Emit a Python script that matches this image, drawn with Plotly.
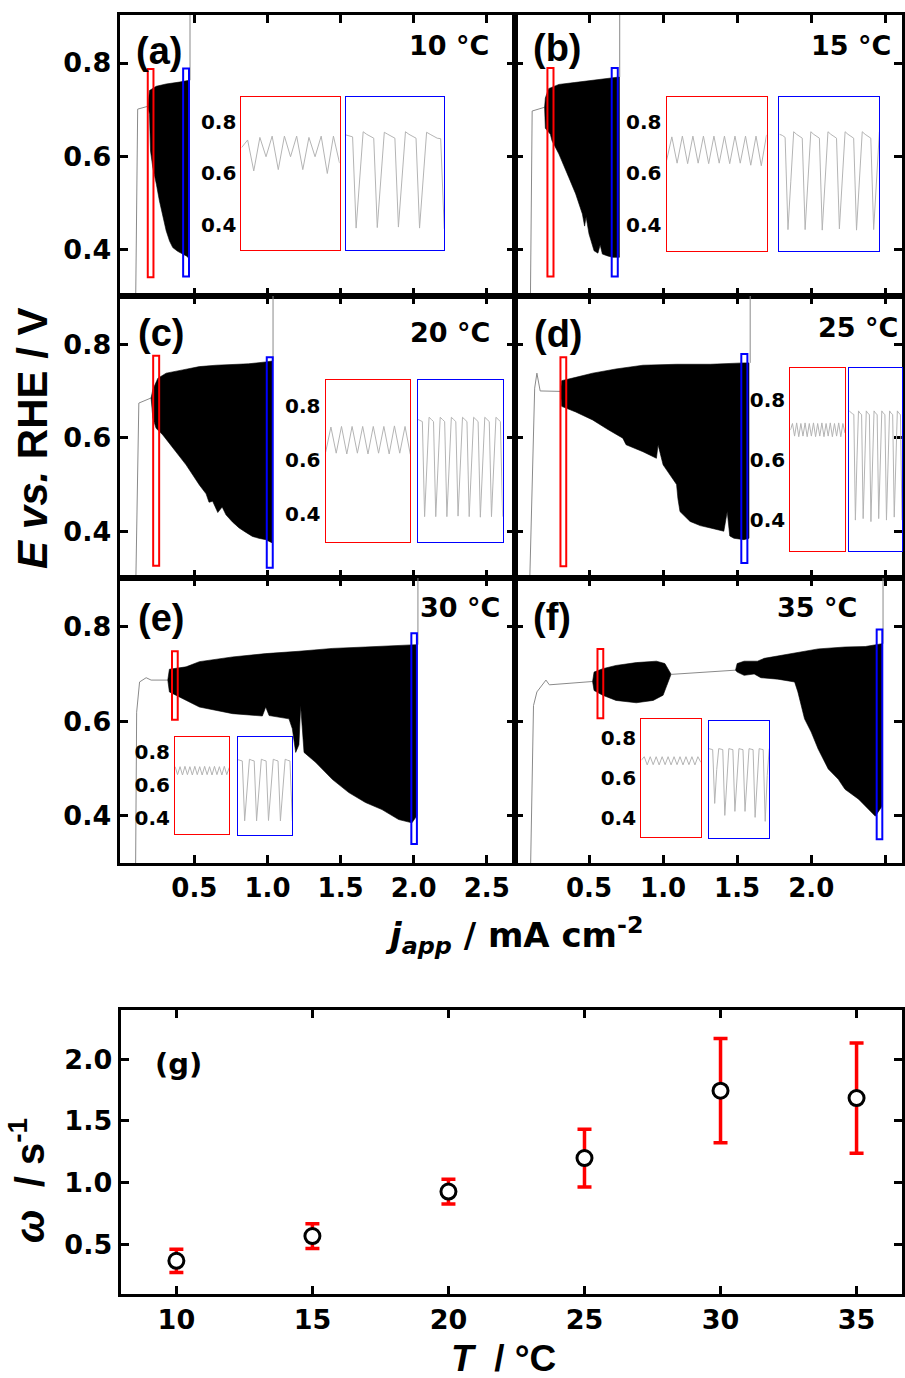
import plotly.graph_objects as go

W, H = 905, 1378

# ---------------- panel texts ----------------
PANEL_LETTERS = ["(a)", "(b)", "(c)", "(d)", "(e)", "(f)"]
TEMP_LABELS = ["10 °C", "15 °C", "20 °C", "25 °C", "30 °C", "35 °C"]
J_TICKS = [0.5, 1.0, 1.5, 2.0, 2.5]
E_TICKS = [0.4, 0.6, 0.8]

# ---------------- (a) 10 °C ----------------
A_GRAY_J = [0.097, 0.112, 0.181]
A_GRAY_E = [0.25, 0.701, 0.707]
A_UP_J = [0.181, 0.193, 0.239, 0.307, 0.397, 0.466]
A_UP_E = [0.707, 0.741, 0.750, 0.755, 0.759, 0.763]
A_LOW_J = [0.181, 0.193, 0.200, 0.216, 0.240, 0.261, 0.285, 0.307, 0.330, 0.352, 0.385, 0.420, 0.445, 0.466]
A_LOW_E = [0.707, 0.690, 0.611, 0.575, 0.540, 0.504, 0.470, 0.440, 0.418, 0.404, 0.396, 0.390, 0.386, 0.380]
A_END_J = 0.470
A_RED_BOX = [0.181, 0.220, 0.340, 0.787]
A_BLUE_BOX = [0.423, 0.463, 0.342, 0.788]
A_INSET_RED = [0.700, 0.730, 0.610, 0.740, 0.665, 0.745, 0.615, 0.745, 0.665, 0.745, 0.615, 0.740,
               0.665, 0.745, 0.600, 0.745, 0.640]
A_INSET_BLUE = [0.750, 0.745, 0.742, 0.388, 0.580, 0.762, 0.752, 0.745, 0.737, 0.390, 0.580, 0.760,
                0.752, 0.745, 0.737, 0.392, 0.585, 0.762, 0.752, 0.745, 0.737, 0.388, 0.580, 0.760,
                0.752, 0.745, 0.737, 0.735, 0.385]

# ---------------- (b) 15 °C ----------------
B_GRAY_J = [0.103, 0.116, 0.200]
B_GRAY_E = [0.25, 0.697, 0.705]
B_UP_J = [0.200, 0.205, 0.227, 0.296, 0.400, 0.500, 0.600, 0.705]
B_UP_E = [0.705, 0.725, 0.745, 0.754, 0.758, 0.762, 0.765, 0.770]
B_LOW_J = [0.200, 0.205, 0.239, 0.250, 0.296, 0.364, 0.410, 0.455, 0.470, 0.480, 0.500, 0.515, 0.534,
           0.560, 0.575, 0.590, 0.625, 0.660, 0.705]
B_LOW_E = [0.705, 0.660, 0.647, 0.633, 0.605, 0.554, 0.519, 0.476, 0.450, 0.470, 0.433, 0.420, 0.397,
           0.392, 0.410, 0.390, 0.386, 0.383, 0.383]
B_END_J = 0.707
B_RED_BOX = [0.219, 0.260, 0.342, 0.789]
B_BLUE_BOX = [0.653, 0.694, 0.342, 0.789]
B_INSET_RED = [0.650, 0.742, 0.640, 0.745, 0.638, 0.745, 0.640, 0.745, 0.638, 0.745, 0.640, 0.745,
               0.638, 0.745, 0.640, 0.745, 0.632, 0.745, 0.630, 0.750]
B_INSET_BLUE = [0.752, 0.748, 0.740, 0.382, 0.570,
                0.762, 0.752, 0.745, 0.737, 0.382, 0.570,
                0.762, 0.752, 0.745, 0.737, 0.380, 0.570,
                0.762, 0.752, 0.745, 0.737, 0.385, 0.570,
                0.762, 0.752, 0.745, 0.737, 0.380, 0.570,
                0.762, 0.752, 0.745, 0.737, 0.382, 0.570,
                0.762]

# ---------------- (c) 20 °C ----------------
C_GRAY_J = [0.097, 0.120, 0.204]
C_GRAY_E = [0.25, 0.674, 0.685]
C_UP_J = [0.204, 0.216, 0.250, 0.307, 0.420, 0.534, 0.650, 0.761, 0.870, 0.988, 1.033]
C_UP_E = [0.685, 0.703, 0.727, 0.738, 0.745, 0.752, 0.755, 0.757, 0.758, 0.762, 0.764]
C_LOW_J = [0.204, 0.216, 0.238, 0.284, 0.352, 0.443, 0.534, 0.580, 0.600, 0.625, 0.660, 0.690, 0.716,
           0.760, 0.806, 0.850, 0.897, 0.940, 0.988, 1.033]
C_LOW_E = [0.685, 0.642, 0.620, 0.606, 0.578, 0.542, 0.499, 0.480, 0.462, 0.464, 0.440, 0.452, 0.435,
           0.420, 0.407, 0.398, 0.389, 0.385, 0.382, 0.375]
C_END_J = 1.038
C_RED_BOX = [0.218, 0.259, 0.326, 0.775]
C_BLUE_BOX = [0.995, 1.036, 0.322, 0.772]
C_INSET_RED = [0.628, 0.722, 0.625, 0.724, 0.622, 0.724, 0.625, 0.724, 0.622, 0.724, 0.625, 0.724,
               0.622, 0.726, 0.625, 0.724, 0.620]
C_INSET_BLUE = [0.750, 0.745, 0.742, 0.390, 0.580,
                0.758, 0.750, 0.742, 0.390, 0.580,
                0.758, 0.750, 0.742, 0.390, 0.580,
                0.758, 0.750, 0.742, 0.392, 0.580,
                0.758, 0.750, 0.742, 0.390, 0.580,
                0.758, 0.750, 0.742, 0.388, 0.580,
                0.758, 0.750, 0.742, 0.390, 0.580,
                0.758, 0.750, 0.742, 0.390]

# ---------------- (d) 25 °C ----------------
D_GRAY_J = [0.096, 0.133, 0.148, 0.170, 0.307]
D_GRAY_E = [0.25, 0.706, 0.738, 0.700, 0.699]
D_UP_J = [0.307, 0.315, 0.410, 0.524, 0.682, 0.864, 1.091, 1.319, 1.546, 1.580]
D_UP_E = [0.699, 0.722, 0.729, 0.738, 0.747, 0.755, 0.757, 0.757, 0.760, 0.760]
D_LOW_J = [0.307, 0.315, 0.410, 0.524, 0.630, 0.728, 0.750, 0.864, 0.955, 0.966, 0.985, 1.000, 1.091,
           1.100, 1.114, 1.182, 1.250, 1.319, 1.410, 1.433, 1.450, 1.478, 1.546, 1.580]
D_LOW_E = [0.699, 0.667, 0.655, 0.638, 0.617, 0.599, 0.585, 0.570, 0.556, 0.585, 0.560, 0.542, 0.500,
           0.470, 0.442, 0.421, 0.412, 0.407, 0.400, 0.442, 0.390, 0.385, 0.382, 0.385]
D_END_J = 1.588
D_RED_BOX = [0.307, 0.346, 0.325, 0.772]
D_BLUE_BOX = [1.528, 1.569, 0.332, 0.779]
D_INSET_RED = [0.700, 0.722, 0.680, 0.724, 0.678, 0.722, 0.680, 0.724, 0.678, 0.722, 0.680, 0.724,
               0.678, 0.722, 0.680, 0.724, 0.678, 0.722, 0.680, 0.724, 0.678, 0.722, 0.680, 0.724,
               0.678, 0.722, 0.690]
D_INSET_BLUE = [0.764, 0.758, 0.755, 0.752, 0.400, 0.600,
                0.764, 0.756, 0.752, 0.405, 0.600,
                0.764, 0.756, 0.752, 0.395, 0.600,
                0.764, 0.756, 0.752, 0.405, 0.600,
                0.764, 0.756, 0.752, 0.400, 0.600,
                0.764, 0.756, 0.752, 0.410, 0.600,
                0.764, 0.756, 0.752, 0.400]

# ---------------- (e) 30 °C ----------------
E_GRAY_J = [0.097, 0.105, 0.125, 0.170, 0.204, 0.318]
E_GRAY_E = [0.25, 0.619, 0.683, 0.692, 0.687, 0.687]
E_UP_J = [0.318, 0.329, 0.443, 0.534, 0.761, 0.988, 1.215, 1.443, 1.670, 1.897, 2.022]
E_UP_E = [0.687, 0.710, 0.715, 0.726, 0.736, 0.743, 0.748, 0.754, 0.757, 0.760, 0.762]
E_LOW_J = [0.318, 0.329, 0.397, 0.534, 0.761, 0.965, 0.988, 1.011, 1.147, 1.170, 1.193, 1.215, 1.227,
           1.250, 1.329, 1.443, 1.556, 1.670, 1.783, 1.897, 1.988, 2.022]
E_LOW_E = [0.687, 0.662, 0.651, 0.630, 0.616, 0.611, 0.630, 0.612, 0.605, 0.584, 0.534, 0.550, 0.633,
           0.534, 0.513, 0.477, 0.449, 0.428, 0.413, 0.392, 0.385, 0.400]
E_END_J = 2.029
E_RED_BOX = [0.347, 0.386, 0.603, 0.748]
E_BLUE_BOX = [1.984, 2.022, 0.340, 0.786]
E_INSET_RED = [0.710, 0.662, 0.710, 0.660, 0.712, 0.662, 0.710, 0.660, 0.712, 0.662, 0.710, 0.660,
               0.712, 0.662, 0.710, 0.660, 0.712, 0.662, 0.710, 0.660, 0.712, 0.662, 0.705]
E_INSET_BLUE = [0.754, 0.750, 0.746, 0.390, 0.600,
                0.756, 0.750, 0.746, 0.390, 0.600,
                0.756, 0.750, 0.746, 0.392, 0.600,
                0.756, 0.750, 0.746, 0.390, 0.600,
                0.756, 0.750, 0.746, 0.390]

# ---------------- (f) 35 °C ----------------
F_GRAY_J = [0.103, 0.125, 0.148, 0.209, 0.232, 0.524]
F_GRAY_E = [0.25, 0.633, 0.662, 0.687, 0.677, 0.684]
F_MID_J = [1.051, 1.489]
F_MID_E = [0.699, 0.708]
F1_UP_J = [0.524, 0.534, 0.592, 0.682, 0.819, 0.955, 1.012, 1.035, 1.051]
F1_UP_E = [0.684, 0.704, 0.711, 0.718, 0.724, 0.727, 0.722, 0.711, 0.701]
F1_LOW_J = [0.524, 0.534, 0.592, 0.682, 0.819, 0.933, 1.000, 1.035, 1.051]
F1_LOW_E = [0.684, 0.665, 0.655, 0.644, 0.639, 0.644, 0.655, 0.683, 0.697]
F2_UP_J = [1.489, 1.500, 1.547, 1.637, 1.683, 1.774, 1.910, 2.047, 2.228, 2.365, 2.478]
F2_UP_E = [0.708, 0.722, 0.727, 0.727, 0.733, 0.738, 0.747, 0.753, 0.757, 0.758, 0.764]
F2_LOW_J = [1.489, 1.500, 1.547, 1.615, 1.660, 1.774, 1.888, 1.910, 1.955, 2.000, 2.047, 2.115, 2.183,
            2.228, 2.320, 2.388, 2.433, 2.478]
F2_LOW_E = [0.708, 0.704, 0.697, 0.700, 0.692, 0.689, 0.683, 0.662, 0.605, 0.577, 0.541, 0.499, 0.477,
            0.456, 0.435, 0.413, 0.399, 0.420]
F_END_J = 2.485
F_RED_BOX = [0.557, 0.596, 0.606, 0.753]
F_BLUE_BOX = [2.442, 2.480, 0.350, 0.794]
F_INSET_RED = [0.690, 0.708, 0.667, 0.708, 0.668, 0.708, 0.667, 0.708, 0.668, 0.708, 0.667, 0.708,
               0.668, 0.708, 0.667, 0.708, 0.668, 0.708, 0.667, 0.708, 0.680]
F_INSET_BLUE = [0.755, 0.752, 0.750, 0.480, 0.650,
                0.755, 0.752, 0.750, 0.420, 0.620,
                0.755, 0.752, 0.750, 0.440, 0.630,
                0.755, 0.752, 0.750, 0.440, 0.630,
                0.755, 0.752, 0.750, 0.410, 0.620,
                0.755, 0.752, 0.750, 0.390, 0.620,
                0.755]

# ---------------- (g) ----------------
T_VALUES = [10, 15, 20, 25, 30, 35]
OMEGA = [0.364, 0.565, 0.926, 1.198, 1.745, 1.685]
OMEGA_ERR = [0.095, 0.100, 0.100, 0.234, 0.423, 0.447]
T_TICKS = [10, 15, 20, 25, 30, 35]
OMEGA_TICKS = [0.5, 1.0, 1.5, 2.0]

PANELS = [
    dict(gray=[(A_GRAY_J, A_GRAY_E)], env=[(A_UP_J, A_UP_E, A_LOW_J, A_LOW_E)], end=A_END_J,
         red=A_RED_BOX, blue=A_BLUE_BOX, ired=A_INSET_RED, iblue=A_INSET_BLUE),
    dict(gray=[(B_GRAY_J, B_GRAY_E)], env=[(B_UP_J, B_UP_E, B_LOW_J, B_LOW_E)], end=B_END_J,
         red=B_RED_BOX, blue=B_BLUE_BOX, ired=B_INSET_RED, iblue=B_INSET_BLUE),
    dict(gray=[(C_GRAY_J, C_GRAY_E)], env=[(C_UP_J, C_UP_E, C_LOW_J, C_LOW_E)], end=C_END_J,
         red=C_RED_BOX, blue=C_BLUE_BOX, ired=C_INSET_RED, iblue=C_INSET_BLUE),
    dict(gray=[(D_GRAY_J, D_GRAY_E)], env=[(D_UP_J, D_UP_E, D_LOW_J, D_LOW_E)], end=D_END_J,
         red=D_RED_BOX, blue=D_BLUE_BOX, ired=D_INSET_RED, iblue=D_INSET_BLUE),
    dict(gray=[(E_GRAY_J, E_GRAY_E)], env=[(E_UP_J, E_UP_E, E_LOW_J, E_LOW_E)], end=E_END_J,
         red=E_RED_BOX, blue=E_BLUE_BOX, ired=E_INSET_RED, iblue=E_INSET_BLUE),
    dict(gray=[(F_GRAY_J, F_GRAY_E), (F_MID_J, F_MID_E)],
         env=[(F1_UP_J, F1_UP_E, F1_LOW_J, F1_LOW_E), (F2_UP_J, F2_UP_E, F2_LOW_J, F2_LOW_E)],
         end=F_END_J, red=F_RED_BOX, blue=F_BLUE_BOX, ired=F_INSET_RED, iblue=F_INSET_BLUE),
]

# ---------------- layout geometry (pixels) ----------------
def xd(x0, x1):
    return [x0 / W, min(x1 / W, 1.0)]


def yd(y0, y1):
    return [1 - y1 / H, 1 - y0 / H]


def px(x):
    return x / W


def py(y):
    return 1 - y / H


COLS = [xd(120, 517), xd(517, 905)]
COL_RANGES = [[-0.0116, 2.695], [0.002, 2.613]]
ROWS = [yd(15, 296), yd(296, 578), yd(578, 863)]
E_RANGE = [0.3, 0.903]

INSET_BOXES = [
    ((242.3, 340.7, 96.7, 250.0), (346.7, 445.7, 96.7, 250.0)),
    ((668.8, 769.1, 96.7, 251.0), (782.0, 882.3, 96.7, 251.0)),
    ((326.7, 411.7, 380.0, 542.3), (419.3, 504.3, 380.0, 542.3)),
    ((793.0, 847.8, 368.3, 551.0), (852.0, 905.0, 368.3, 551.0)),
    ((175.7, 230.0, 736.7, 834.3), (238.3, 293.3, 736.7, 835.3)),
    ((643.4, 703.2, 719.3, 837.3), (711.0, 771.8, 720.7, 838.3)),
]
INSET_RANGES = [[0.303, 0.898], [0.299, 0.898], [0.295, 0.896], [0.297, 0.906], [0.304, 0.890], [0.305, 0.895]]

LETTER_POS = [(160, 51), (559, 48), (162, 333), (560, 334), (162, 618), (554, 617)]
TEMP_POS = [(493, 46), (896, 45), (494, 332), (903, 327), (504, 607), (862, 608)]

SANS = "Liberation Sans, Arial, sans-serif"
WIDE = "DejaVu Sans, sans-serif"
GRAY = "#8a8a8a"
INSET_GRAY = "#b4b4b4"

fig = go.Figure()
layout = dict(
    width=W, height=H, margin=dict(l=0, r=0, t=0, b=0),
    paper_bgcolor="white", plot_bgcolor="rgba(0,0,0,0)", showlegend=False,
)
shapes = []
annotations = []

frame = dict(showline=True, linewidth=3, linecolor="black", mirror="allticks", ticks="inside",
             ticklen=8, tickwidth=3, tickcolor="black", showgrid=False, zeroline=False)

for i, p in enumerate(PANELS):
    n = i + 1
    row, col = divmod(i, 2)
    xa, ya = f"x{n}", f"y{n}"
    layout[f"xaxis{n}"] = dict(frame, domain=COLS[col], range=COL_RANGES[col], anchor=ya,
                               tickvals=J_TICKS, ticktext=[f"{v:.1f}" for v in J_TICKS],
                               showticklabels=(row == 2), ticklabelstandoff=0,
                               tickfont=dict(family=WIDE, size=26, color="black", weight="bold"))
    layout[f"yaxis{n}"] = dict(frame, domain=ROWS[row], range=E_RANGE, anchor=xa,
                               tickvals=E_TICKS, ticktext=[f"{v:.1f}" for v in E_TICKS],
                               showticklabels=(col == 0), ticklabelstandoff=0,
                               tickfont=dict(family=WIDE, size=27, color="black", weight="bold"))
    for gj, ge in p["gray"]:
        fig.add_trace(go.Scatter(x=gj, y=ge, mode="lines", line=dict(color=GRAY, width=1),
                                 xaxis=xa, yaxis=ya, hoverinfo="skip"))
    for uj, ue, lj, le in p["env"]:
        fig.add_trace(go.Scatter(x=list(uj) + list(lj)[::-1], y=list(ue) + list(le)[::-1],
                                 mode="lines", fill="toself", fillcolor="black",
                                 line=dict(color="black", width=0.6), xaxis=xa, yaxis=ya,
                                 hoverinfo="skip"))
    last_up = p["env"][-1][1][-1]
    fig.add_trace(go.Scatter(x=[p["end"], p["end"]], y=[last_up, 0.95], mode="lines",
                             line=dict(color=GRAY, width=1), xaxis=xa, yaxis=ya, hoverinfo="skip"))
    for box, color in ((p["red"], "red"), (p["blue"], "blue")):
        shapes.append(dict(type="rect", xref=xa, yref=ya, x0=box[0], x1=box[1], y0=box[2], y1=box[3],
                           line=dict(color=color, width=2), fillcolor="rgba(0,0,0,0)"))
    # insets
    for k, (vals, color) in enumerate(((p["ired"], "red"), (p["iblue"], "blue"))):
        m = 7 + 2 * i + k
        bx = INSET_BOXES[i][k]
        layout[f"xaxis{m}"] = dict(domain=xd(bx[0], bx[1]), range=[0, len(vals) - 1], anchor=f"y{m}",
                                   showline=True, mirror=True, linecolor=color, linewidth=1.3,
                                   ticks="", showticklabels=False, showgrid=False, zeroline=False)
        layout[f"yaxis{m}"] = dict(domain=yd(bx[2], bx[3]), range=INSET_RANGES[i], anchor=f"x{m}",
                                   showline=True, mirror=True, linecolor=color, linewidth=1.3,
                                   ticks="", showgrid=False, zeroline=False,
                                   tickvals=E_TICKS, ticktext=[f"{v:.1f}" for v in E_TICKS],
                                   showticklabels=(k == 0), ticklabelstandoff=0,
                                   tickfont=dict(family=WIDE, size=20, color="black", weight="bold"))
        fig.add_trace(go.Scatter(x=list(range(len(vals))), y=vals, mode="lines",
                                 line=dict(color=INSET_GRAY, width=1), xaxis=f"x{m}", yaxis=f"y{m}",
                                 hoverinfo="skip"))
    lx, ly = LETTER_POS[i]
    annotations.append(dict(text=PANEL_LETTERS[i], x=px(lx), y=py(ly), xref="paper", yref="paper",
                            showarrow=False, xanchor="center", yanchor="middle",
                            font=dict(family=SANS, size=38, color="black", weight="bold")))
    tx, ty = TEMP_POS[i]
    annotations.append(dict(text=TEMP_LABELS[i], x=px(tx), y=py(ty), xref="paper", yref="paper",
                            showarrow=False, xanchor="right", yanchor="middle",
                            font=dict(family=WIDE, size=27, color="black", weight="bold")))

# ---------------- panel (g) ----------------
layout["xaxis19"] = dict(frame, domain=xd(121, 905), range=[7.95, 36.67], anchor="y19",
                         tickvals=T_TICKS, ticklabelstandoff=0,
                         tickfont=dict(family=WIDE, size=27, color="black", weight="bold"))
layout["yaxis19"] = dict(frame, domain=yd(1010, 1294), range=[0.095, 2.4], anchor="x19",
                         tickvals=OMEGA_TICKS, ticktext=[f"{v:.1f}" for v in OMEGA_TICKS],
                         ticklabelstandoff=0,
                         tickfont=dict(family=WIDE, size=27, color="black", weight="bold"))
fig.add_trace(go.Scatter(x=T_VALUES, y=OMEGA, mode="markers", xaxis="x19", yaxis="y19",
                         marker=dict(symbol="circle", size=15, color="white",
                                     line=dict(color="black", width=3)),
                         error_y=dict(type="data", array=OMEGA_ERR, color="red", thickness=3.5, width=7),
                         hoverinfo="skip"))
annotations.append(dict(text="(g)", x=px(179), y=py(1064), xref="paper", yref="paper", showarrow=False,
                        xanchor="center", yanchor="middle",
                        font=dict(family=WIDE, size=29, color="black", weight="bold")))

# ---------------- axis titles ----------------
annotations.append(dict(text="<i>E vs.</i> RHE / V", x=px(32), y=py(438), xref="paper", yref="paper",
                        showarrow=False, textangle=-90, xanchor="center", yanchor="middle",
                        font=dict(family=SANS, size=42, color="black", weight="bold")))
annotations.append(dict(text="<i>j</i><sub><i>app</i></sub> / mA cm<sup>-2</sup>", x=px(516), y=py(935),
                        xref="paper", yref="paper", showarrow=False, xanchor="center", yanchor="middle",
                        font=dict(family=WIDE, size=34, color="black", weight="bold")))
annotations.append(dict(text="<i>ω</i>\u00a0 / s<sup>-1</sup>", x=px(27), y=py(1180), xref="paper",
                        yref="paper", showarrow=False, textangle=-90, xanchor="center", yanchor="middle",
                        font=dict(family=SANS, size=40, color="black", weight="bold")))
annotations.append(dict(text="<i>T</i>\u00a0 / °C", x=px(505), y=py(1358), xref="paper", yref="paper",
                        showarrow=False, xanchor="center", yanchor="middle",
                        font=dict(family=SANS, size=37, color="black", weight="bold")))

layout["shapes"] = shapes
layout["annotations"] = annotations
fig.update_layout(**layout)

fig.write_html("out.html", config={"displayModeBar": False},
               post_script="document.body.style.margin='0';document.body.style.overflow='hidden';")
